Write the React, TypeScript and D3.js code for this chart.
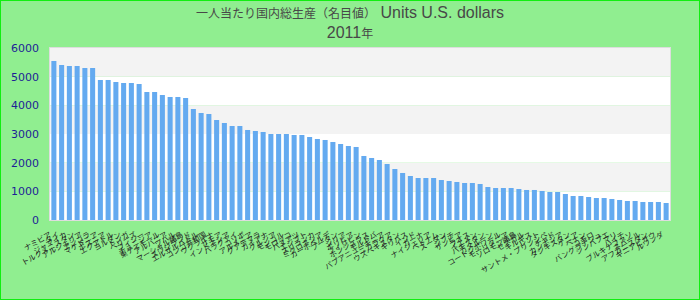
import React from "react";
import * as d3 from "d3";

const titleJa = "一人当たり国内総生産（名目値）";
const titleUnits = " Units U.S. dollars";
const subtitleYear = "2011";
const subtitleSuffix = "年";

const countries = [
  "ナミビア", "タイ", "ジャマイカ", "トルクメニスタン", "アルジェリア", "アンゴラ", "マケドニア", "ボスニア", "エクアドル", "ヨルダン",
  "トンガ", "ベリーズ", "フィジー", "チュニジア", "東ティモール", "アルバニア", "ツバル", "マーシャル諸島", "スワジランド", "エルサルバドル",
  "コンゴ共和国", "ウクライナ", "サモア", "インドネシア", "パラグアイ", "コソボ", "アルメニア", "グアテマラ", "ガイアナ", "グルジア",
  "モンゴル", "モロッコ", "バヌアツ", "エジプト", "スリランカ", "ミクロネシア", "カーボベルデ", "ブータン", "シリア", "ボリビア",
  "フィリピン", "ホンジュラス", "モルドバ", "パプアニューギニア", "ニカラグア", "ウズベキスタン", "キリバス", "インド", "ガーナ", "ナイジェリア",
  "ベトナム", "スーダン", "ジブチ", "ザンビア", "ラオス", "イエメン", "パキスタン", "カメルーン", "コートジボワール", "モーリタニア",
  "ソロモン諸島", "セネガル", "キルギス", "レソト", "サントメ・プリンシペ", "チャド", "カンボジア", "タジキスタン", "ケニア", "ベナン",
  "コモロ", "バングラデシュ", "ジンバブエ", "マリ", "ハイチ", "ブルキナファソ", "ネパール", "アフガニスタン", "ギニアビサウ", "ルワンダ",
];

const values = [
  5547, 5407, 5372, 5372, 5302, 5302, 4884, 4884, 4814, 4779,
  4779, 4744, 4465, 4465, 4360, 4291, 4291, 4256, 3872, 3733,
  3698, 3488, 3384, 3279, 3279, 3140, 3105, 3070, 3000, 3000,
  3000, 2965, 2965, 2895, 2826, 2791, 2721, 2651, 2581, 2547,
  2233, 2163, 2093, 1953, 1779, 1640, 1535, 1465, 1465, 1465,
  1395, 1360, 1326, 1291, 1291, 1256, 1151, 1116, 1116, 1116,
  1081, 1047, 1047, 1012, 977, 977, 907, 837, 837, 802,
  767, 767, 733, 698, 663, 663, 628, 628, 628, 593,
];

const yTicks = [0, 1000, 2000, 3000, 4000, 5000, 6000];

const W = 700;
const H = 300;
const plot = { left: 50, right: 670, top: 48, bottom: 220 };

export default function App() {
  const x = d3
    .scaleBand<string>()
    .domain(countries)
    .range([plot.left, plot.right])
    .paddingInner(0.35)
    .paddingOuter(0.175);
  const y = d3.scaleLinear().domain([0, 6000]).range([plot.bottom, plot.top]);

  const bands = yTicks.slice(0, -1).map((t, i) => ({
    y0: y(yTicks[i + 1]),
    y1: y(t),
    fill: (yTicks.length - 2 - i) % 2 === 0 ? "#f3f3f3" : "#ffffff",
  }));

  return (
    <svg
      width={W}
      height={H}
      style={{ position: "absolute", left: 0, top: 0 }}
      fontFamily="'Liberation Sans', Arial, sans-serif"
    >
      <rect x={0.5} y={0.5} width={W - 1} height={H - 1} fill="#90ee90" stroke="#11ee11" strokeWidth={1} />
      <text x={W / 2} y={17.5} textAnchor="middle" fontSize={16} fill="#484848">
        <tspan fontSize={12} fontFamily="'Noto Sans CJK JP', sans-serif">{titleJa}</tspan>
        <tspan>{titleUnits}</tspan>
      </text>
      <text x={W / 2} y={37.5} textAnchor="middle" fontSize={16} fill="#484848">
        <tspan>{subtitleYear}</tspan>
        <tspan fontSize={12} fontFamily="'Noto Sans CJK JP', sans-serif">{subtitleSuffix}</tspan>
      </text>
      {bands.map((b, i) => (
        <rect key={i} x={plot.left} y={b.y0} width={plot.right - plot.left} height={b.y1 - b.y0} fill={b.fill} />
      ))}
      <rect
        x={plot.left - 0.5}
        y={plot.top - 0.5}
        width={plot.right - plot.left + 1}
        height={plot.bottom - plot.top + 1}
        fill="none"
        stroke="#dddddd"
      />
      {countries.map((c, i) => (
        <rect
          key={c}
          x={x(c)}
          y={y(values[i])}
          width={x.bandwidth()}
          height={plot.bottom - y(values[i])}
          fill="#64aaf0"
        />
      ))}
      {yTicks.map((t) => (
        <text
          key={t}
          x={39}
          y={y(t)}
          dy="0.35em"
          textAnchor="end"
          fontSize={11}
          fontFamily="'DejaVu Sans', Verdana, sans-serif"
          fill="#1e1e96"
        >
          {t}
        </text>
      ))}
      {countries.map((c) => {
        const cx = (x(c) ?? 0) + x.bandwidth() / 2 - 2;
        const cy = 236;
        return (
          <text
            key={"l" + c}
            x={cx}
            y={cy}
            transform={`rotate(-30 ${cx} ${cy})`}
            textAnchor="end"
            fontSize={7.5}
            fontFamily="'Noto Sans CJK JP', sans-serif"
            fill="#222222"
          >
            {c}
          </text>
        );
      })}
    </svg>
  );
}
